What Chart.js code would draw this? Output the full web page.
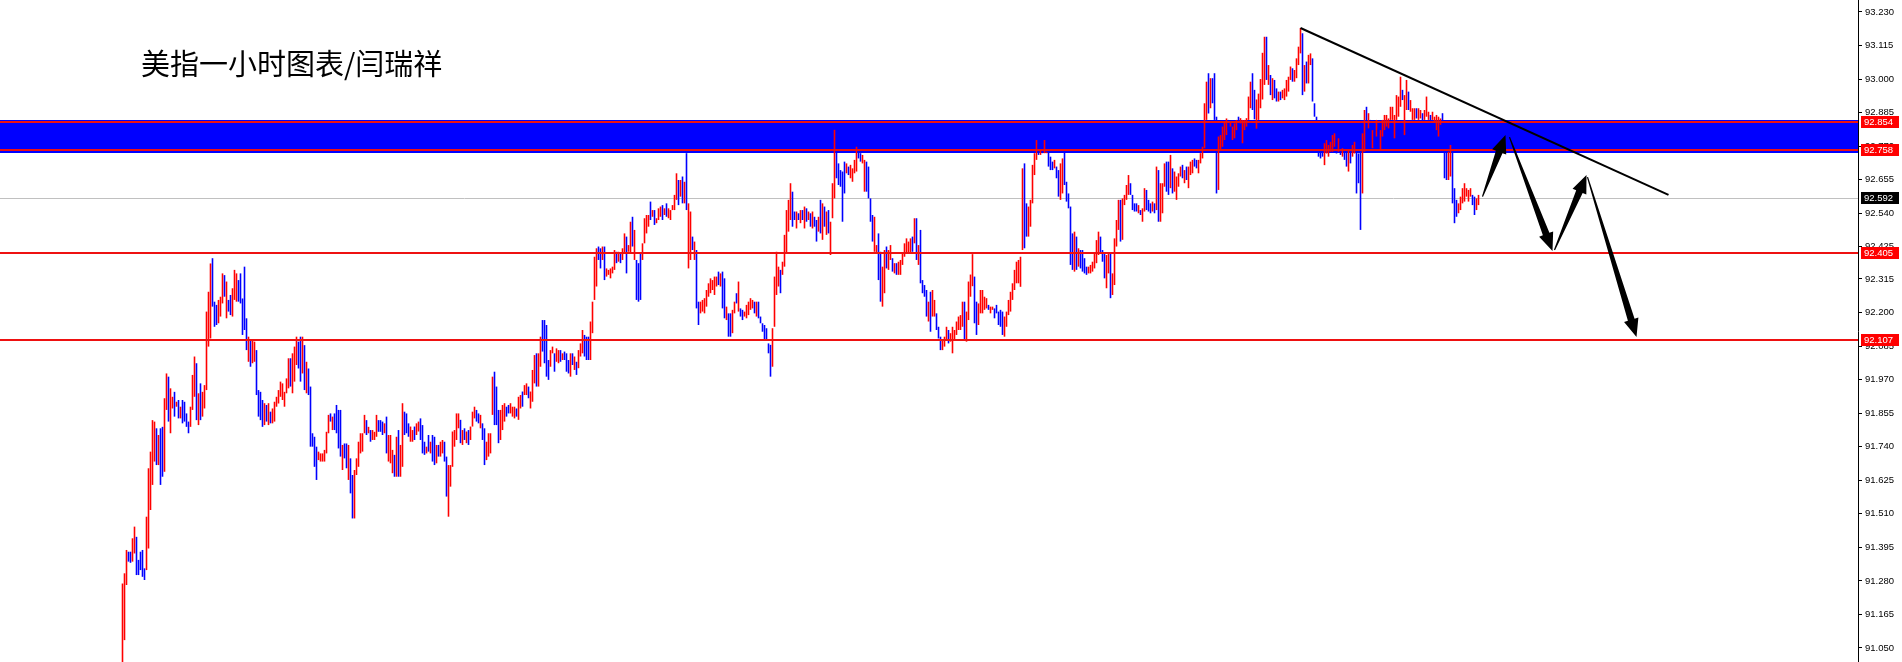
<!DOCTYPE html>
<html>
<head>
<meta charset="utf-8">
<script src="https://cdn.jsdelivr.net/npm/chart.js@4/dist/chart.umd.min.js"></script>
<style>
body { margin: 0; background: #fff; }
#wrap { position: relative; width: 1902px; height: 662px; }
#title { position: absolute; left: 141px; top: 48px; font: 29px/29px "Noto Sans CJK SC", sans-serif; color: #000; white-space: nowrap; }
</style>
</head>
<body>
<div id="wrap">
  <canvas id="chart" width="1902" height="662"></canvas>
  <div id="title">美指一小时图表/闫瑞祥</div>
</div>
<script>
// price scale labels on the right
const tickValues = [93.230, 93.115, 93.000, 92.885, 92.770, 92.655, 92.540, 92.425, 92.315, 92.200,
    92.085, 91.970, 91.855, 91.740, 91.625, 91.510, 91.395, 91.280, 91.165, 91.050];

// horizontal levels, resistance zone and current bid
const levels = [92.854, 92.758, 92.405, 92.107];
const bandTop = 92.858;
const bandBottom = 92.748;
const bidPrice = 92.592;

// trend line and drawn arrows, as [bar index, price]
const trendLine = [[589, 93.175], [773, 92.603]];
const arrows = [
    [[680, 92.597], [691.5, 92.808]],
    [[693.5, 92.801], [715, 92.411]],
    [[716, 92.414], [732, 92.671]],
    [[732.5, 92.664], [757, 92.116]]
];

// hourly bars (high / low), one every hour
const highs = [
91.271,91.306,91.386,91.380,91.380,91.426,91.466,91.431,91.352,91.380,
91.386,91.323,91.500,91.666,91.723,91.831,91.826,91.803,91.780,91.803,
91.808,91.906,91.991,91.980,91.940,91.911,91.928,91.894,91.900,91.877,
91.900,91.894,91.854,91.826,91.877,91.986,92.049,92.026,91.923,91.957,
91.928,91.951,92.203,92.271,92.368,92.386,92.237,92.226,92.243,92.254,
92.334,92.328,92.306,92.243,92.260,92.283,92.346,92.334,92.311,92.334,
92.248,92.357,92.180,92.117,92.106,92.106,92.100,92.071,91.934,91.928,
91.900,91.889,91.883,91.889,91.860,91.871,91.894,91.911,91.934,91.963,
91.957,91.928,91.974,92.043,92.043,92.060,92.083,92.117,92.100,92.117,
92.117,92.088,92.031,92.008,91.946,91.786,91.774,91.740,91.723,91.717,
91.717,91.729,91.791,91.849,91.854,91.843,91.854,91.883,91.866,91.866,
91.746,91.751,91.751,91.746,91.700,91.643,91.660,91.700,91.757,91.786,
91.786,91.849,91.831,91.808,91.797,91.797,91.791,91.849,91.831,91.831,
91.826,91.820,91.843,91.780,91.780,91.729,91.712,91.774,91.797,91.746,
91.889,91.860,91.854,91.820,91.809,91.797,91.809,91.820,91.826,91.837,
91.814,91.757,91.740,91.780,91.757,91.780,91.774,91.746,91.746,91.757,
91.763,91.757,91.706,91.677,91.677,91.792,91.797,91.854,91.854,91.832,
91.797,91.803,91.792,91.797,91.809,91.860,91.877,91.866,91.854,91.849,
91.820,91.803,91.757,91.786,91.786,91.980,91.997,91.946,91.866,91.866,
91.883,91.889,91.877,91.883,91.889,91.877,91.877,91.871,91.911,91.917,
91.929,91.951,91.957,91.946,91.929,92.003,92.054,92.060,92.060,92.117,
92.174,92.174,92.157,92.037,92.071,92.083,92.060,92.077,92.071,92.071,
92.060,92.066,92.060,92.037,92.060,92.060,92.049,92.031,92.071,92.094,
92.140,92.123,92.117,92.117,92.169,92.237,92.391,92.420,92.426,92.420,
92.426,92.426,92.351,92.346,92.351,92.357,92.414,92.408,92.408,92.403,
92.420,92.471,92.460,92.431,92.511,92.528,92.483,92.380,92.369,92.403,
92.437,92.523,92.534,92.534,92.580,92.551,92.551,92.523,92.557,92.563,
92.568,92.557,92.574,92.557,92.551,92.568,92.603,92.677,92.654,92.654,
92.666,92.648,92.746,92.574,92.546,92.460,92.443,92.414,92.237,92.237,
92.243,92.249,92.277,92.300,92.317,92.311,92.323,92.323,92.340,92.334,
92.340,92.317,92.220,92.197,92.197,92.209,92.237,92.266,92.306,92.214,
92.209,92.203,92.226,92.237,92.249,92.243,92.237,92.237,92.237,92.186,
92.163,92.157,92.146,92.094,92.089,92.146,92.323,92.408,92.357,92.346,
92.374,92.466,92.551,92.586,92.643,92.614,92.546,92.546,92.540,92.551,
92.551,92.563,92.557,92.546,92.540,92.546,92.528,92.517,92.528,92.586,
92.574,92.563,92.546,92.551,92.511,92.643,92.826,92.757,92.711,92.688,
92.683,92.717,92.711,92.700,92.706,92.694,92.723,92.768,92.757,92.746,
92.740,92.723,92.717,92.700,92.591,92.534,92.528,92.431,92.471,92.408,
92.357,92.414,92.426,92.414,92.431,92.386,92.369,92.369,92.374,92.380,
92.403,92.437,92.454,92.443,92.454,92.460,92.523,92.523,92.431,92.483,
92.311,92.294,92.277,92.237,92.271,92.277,92.243,92.197,92.151,92.117,
92.106,92.117,92.151,92.140,92.129,92.151,92.140,92.169,92.186,92.191,
92.237,92.237,92.203,92.306,92.330,92.400,92.323,92.237,92.231,92.277,
92.277,92.254,92.249,92.226,92.220,92.220,92.214,92.226,92.203,92.209,
92.203,92.186,92.203,92.243,92.271,92.300,92.346,92.374,92.380,92.391,
92.694,92.711,92.574,92.563,92.586,92.706,92.746,92.791,92.774,92.757,
92.768,92.791,92.751,92.751,92.734,92.717,92.723,92.700,92.688,92.711,
92.728,92.751,92.648,92.608,92.563,92.471,92.477,92.460,92.420,92.414,
92.414,92.386,92.357,92.357,92.363,92.374,92.403,92.448,92.477,92.460,
92.414,92.403,92.397,92.403,92.403,92.334,92.454,92.517,92.586,92.586,
92.591,92.603,92.637,92.671,92.643,92.603,92.574,92.574,92.568,92.551,
92.557,92.626,92.620,92.586,92.574,92.580,92.574,92.700,92.688,92.643,
92.643,92.711,92.717,92.717,92.740,92.694,92.683,92.666,92.677,92.700,
92.706,92.688,92.700,92.700,92.717,92.723,92.728,92.723,92.723,92.746,
92.768,92.917,92.991,93.020,93.003,93.003,93.020,92.871,92.803,92.808,
92.837,92.854,92.865,92.860,92.854,92.837,92.848,92.860,92.871,92.866,
92.860,92.860,92.866,92.940,92.991,93.020,92.963,92.930,92.950,93.000,
93.090,93.145,93.145,93.048,93.014,93.003,92.997,92.968,92.957,92.957,
92.963,92.968,92.997,93.008,93.043,93.037,93.031,93.071,93.111,93.175,
93.157,93.048,93.060,93.083,93.088,93.071,92.917,92.871,92.820,92.791,
92.785,92.780,92.791,92.774,92.785,92.808,92.814,92.785,92.797,92.785,
92.763,92.768,92.751,92.757,92.751,92.774,92.785,92.751,92.745,92.751,
92.814,92.894,92.905,92.883,92.860,92.825,92.820,92.860,92.831,92.825,
92.860,92.877,92.877,92.865,92.905,92.905,92.877,92.945,92.940,93.008,
92.963,92.945,92.997,92.957,92.928,92.900,92.900,92.900,92.900,92.894,
92.883,92.894,92.940,92.888,92.877,92.888,92.871,92.877,92.871,92.865,
92.883,92.751,92.751,92.751,92.774,92.751,92.626,92.586,92.574,92.597,
92.626,92.643,92.626,92.620,92.626,92.603,92.597,92.591,92.603
];

const lows = [
90.950,91.077,91.266,91.346,91.342,91.346,91.374,91.300,91.300,91.317,
91.294,91.283,91.317,91.391,91.523,91.609,91.689,91.677,91.677,91.609,
91.637,91.654,91.866,91.826,91.786,91.871,91.843,91.877,91.837,91.837,
91.820,91.826,91.808,91.786,91.808,91.866,91.911,91.831,91.814,91.831,
91.843,91.871,91.934,92.083,92.111,92.220,92.151,92.157,92.163,92.186,
92.231,92.254,92.180,92.203,92.191,92.186,92.243,92.237,92.237,92.231,
92.123,92.140,92.071,92.031,92.014,92.026,92.031,91.917,91.843,91.831,
91.808,91.814,91.826,91.814,91.820,91.820,91.826,91.877,91.888,91.911,
91.900,91.877,91.923,91.940,91.946,91.923,91.963,92.020,92.008,91.963,
91.991,91.934,91.923,91.917,91.740,91.740,91.671,91.626,91.694,91.689,
91.689,91.689,91.717,91.786,91.826,91.797,91.797,91.786,91.734,91.706,
91.660,91.700,91.666,91.626,91.580,91.494,91.494,91.643,91.671,91.717,
91.723,91.786,91.780,91.786,91.757,91.763,91.763,91.774,91.791,91.791,
91.780,91.786,91.717,91.689,91.683,91.649,91.637,91.637,91.637,91.637,
91.671,91.780,91.786,91.774,91.757,91.757,91.763,91.780,91.792,91.763,
91.717,91.712,91.717,91.723,91.717,91.689,91.677,91.683,91.706,91.706,
91.717,91.689,91.569,91.500,91.603,91.671,91.740,91.763,91.803,91.752,
91.746,91.763,91.752,91.746,91.763,91.809,91.837,91.826,91.820,91.803,
91.763,91.677,91.694,91.706,91.717,91.849,91.814,91.814,91.752,91.763,
91.797,91.826,91.843,91.854,91.854,91.843,91.837,91.843,91.832,91.871,
91.877,91.917,91.917,91.906,91.871,91.894,91.957,91.946,91.946,92.014,
92.066,92.026,91.980,91.969,92.014,92.060,91.997,92.031,92.026,92.031,
92.037,92.037,91.997,91.991,91.980,92.020,92.003,91.986,92.009,92.049,
92.060,92.049,92.037,92.037,92.037,92.129,92.243,92.289,92.380,92.351,
92.380,92.311,92.323,92.329,92.317,92.334,92.346,92.369,92.374,92.369,
92.380,92.403,92.334,92.408,92.403,92.426,92.380,92.243,92.237,92.243,
92.380,92.437,92.471,92.494,92.517,92.528,92.500,92.506,92.517,92.528,
92.517,92.534,92.528,92.523,92.517,92.551,92.551,92.586,92.568,92.597,
92.574,92.574,92.551,92.351,92.380,92.414,92.380,92.214,92.157,92.197,
92.203,92.197,92.220,92.254,92.266,92.277,92.260,92.289,92.294,92.289,
92.214,92.180,92.174,92.117,92.117,92.129,92.197,92.231,92.203,92.186,
92.174,92.186,92.180,92.191,92.209,92.214,92.197,92.186,92.180,92.163,
92.134,92.106,92.106,92.060,91.980,92.014,92.151,92.260,92.289,92.266,
92.329,92.357,92.403,92.477,92.517,92.494,92.517,92.488,92.517,92.506,
92.517,92.488,92.511,92.517,92.494,92.488,92.494,92.443,92.477,92.471,
92.449,92.494,92.466,92.471,92.397,92.523,92.591,92.660,92.637,92.631,
92.511,92.608,92.677,92.671,92.660,92.648,92.677,92.683,92.728,92.717,
92.711,92.614,92.614,92.591,92.511,92.443,92.408,92.403,92.311,92.237,
92.220,92.266,92.351,92.346,92.380,92.340,92.334,92.329,92.329,92.329,
92.363,92.391,92.403,92.403,92.403,92.408,92.437,92.380,92.363,92.300,
92.266,92.254,92.186,92.169,92.134,92.186,92.186,92.140,92.111,92.071,
92.071,92.083,92.106,92.094,92.100,92.060,92.106,92.123,92.140,92.140,
92.151,92.106,92.100,92.174,92.254,92.290,92.163,92.123,92.157,92.197,
92.197,92.209,92.214,92.209,92.197,92.209,92.180,92.197,92.157,92.151,
92.123,92.117,92.151,92.191,92.203,92.243,92.277,92.300,92.300,92.288,
92.414,92.420,92.460,92.460,92.494,92.574,92.671,92.723,92.740,92.740,
92.746,92.746,92.746,92.700,92.688,92.688,92.694,92.660,92.597,92.586,
92.608,92.637,92.580,92.557,92.363,92.346,92.340,92.346,92.357,92.351,
92.340,92.334,92.329,92.334,92.334,92.340,92.351,92.369,92.397,92.403,
92.374,92.317,92.283,92.334,92.249,92.260,92.294,92.426,92.483,92.443,
92.449,92.568,92.586,92.603,92.603,92.551,92.546,92.546,92.540,92.534,
92.511,92.546,92.551,92.546,92.540,92.546,92.540,92.551,92.511,92.511,
92.540,92.631,92.614,92.603,92.626,92.608,92.614,92.586,92.631,92.666,
92.660,92.643,92.654,92.626,92.671,92.677,92.700,92.694,92.677,92.711,
92.728,92.763,92.860,92.882,92.900,92.917,92.860,92.608,92.620,92.757,
92.768,92.791,92.808,92.825,92.837,92.791,92.797,92.825,92.837,92.848,
92.780,92.825,92.837,92.860,92.900,92.894,92.862,92.830,92.860,92.900,
92.930,92.980,92.997,92.980,92.945,92.928,92.934,92.923,92.923,92.928,
92.934,92.928,92.940,92.957,92.997,92.991,92.991,93.003,93.048,93.088,
92.945,92.957,92.985,92.985,93.048,92.923,92.871,92.854,92.734,92.728,
92.734,92.705,92.745,92.734,92.751,92.751,92.768,92.745,92.751,92.740,
92.734,92.723,92.700,92.683,92.711,92.734,92.745,92.608,92.643,92.483,
92.608,92.751,92.848,92.831,92.803,92.763,92.768,92.803,92.774,92.757,
92.803,92.825,92.837,92.831,92.860,92.860,92.797,92.860,92.871,92.905,
92.928,92.808,92.894,92.894,92.888,92.860,92.860,92.865,92.860,92.865,
92.854,92.860,92.871,92.860,92.854,92.860,92.854,92.825,92.803,92.843,
92.854,92.660,92.654,92.654,92.666,92.574,92.506,92.528,92.540,92.551,
92.574,92.580,92.597,92.580,92.597,92.568,92.534,92.551,92.568
];

// u = bar closed up, d = bar closed down
const dirs = [
'uuudduuddd','dduuuuudud','duuduududu','dddduuudud','uuuuuddduu',
'ududduuudd','ddduduuddd','dududuuuuu','uuuuduuudd','ududdddduu',
'uuuududddd','uddudduuuu','uududuuudd','duduuududu','uddduuduud',
'ddududdudu','udduuuuuud','ududuuuddu','dduuuudddu','uudduuuduu',
'duuduuuduu','dddduuduud','udddududuu','uddduuuudd','uduuuuudud',
'uuduududdd','uuuududuuu','duduuuuudu','duduududdu','uuuuuuuudu',
'ddudduudud','duuuuududd','ddddduuuud','uuuuuddudu','dudududdud',
'ududuuuddd','dduduuuudd','uudddduudd','uuduududuu','uuuuududud',
'ddduduuddd','uuuduuuuuu','uduuuudduu','uuuduudddd','duuuuuuuuu',
'udduuuuudu','duuddduddu','udddddudud','ddduuuuuud','dduuduuuud',
'uuuuddddud','uudddududu','uudduduuuu','duduuudduu','uuududdduu',
'uuuduuuudu','uuuuudduuu','uudududdud','uuuuuduuuu','duduuddddd',
'duuuuuudud','udduduuddd','uududududu','uuuuuuuuuu','duuduuuduu',
'duuuduuuuu','ddduuddduu','uuuuudduu'
].join('').split('');

const UP = '#ff0000';
const DOWN = '#0000ff';
const AXIS_FONT = '9.5px "Liberation Sans", Arial, sans-serif';

function drawArrow(ctx, x1, y1, x2, y2) {
    const len = Math.hypot(x2 - x1, y2 - y1);
    const ux = (x2 - x1) / len, uy = (y2 - y1) / len;
    const nx = -uy, ny = ux;
    const headLen = 18, headW = 7.5, shaftW = 3.5, tailW = 0.6;
    const bx = x2 - ux * headLen, by = y2 - uy * headLen;
    ctx.beginPath();
    ctx.moveTo(x1 + nx * tailW, y1 + ny * tailW);
    ctx.lineTo(bx + nx * shaftW, by + ny * shaftW);
    ctx.lineTo(bx + nx * headW, by + ny * headW);
    ctx.lineTo(x2, y2);
    ctx.lineTo(bx - nx * headW, by - ny * headW);
    ctx.lineTo(bx - nx * shaftW, by - ny * shaftW);
    ctx.lineTo(x1 - nx * tailW, y1 - ny * tailW);
    ctx.closePath();
    ctx.fill();
}

const overlay = {
    id: 'overlay',
    beforeDatasetsDraw(chart) {
        const { ctx, chartArea: a, scales: { y } } = chart;
        ctx.save();
        const t = Math.round(y.getPixelForValue(bandTop));
        const b = Math.round(y.getPixelForValue(bandBottom));
        ctx.fillStyle = '#0000ff';
        ctx.fillRect(a.left, t, a.right - a.left, b - t);
        const py = Math.round(y.getPixelForValue(bidPrice)) + 0.5;
        ctx.strokeStyle = '#c0c0c0';
        ctx.lineWidth = 1;
        ctx.beginPath();
        ctx.moveTo(a.left, py);
        ctx.lineTo(a.right, py);
        ctx.stroke();
        ctx.restore();
    },
    afterDatasetsDraw(chart) {
        const { ctx, chartArea: a, scales: { x, y } } = chart;
        ctx.save();
        ctx.beginPath();
        ctx.rect(a.left, a.top, a.right - a.left, a.bottom - a.top);
        ctx.clip();
        ctx.strokeStyle = '#ee1111';
        ctx.lineWidth = 2;
        levels.forEach(v => {
            const py = Math.round(y.getPixelForValue(v));
            ctx.beginPath();
            ctx.moveTo(a.left, py);
            ctx.lineTo(a.right, py);
            ctx.stroke();
        });
        ctx.strokeStyle = '#000';
        ctx.lineWidth = 2;
        ctx.beginPath();
        ctx.moveTo(x.getPixelForValue(trendLine[0][0]), y.getPixelForValue(trendLine[0][1]));
        ctx.lineTo(x.getPixelForValue(trendLine[1][0]), y.getPixelForValue(trendLine[1][1]));
        ctx.stroke();
        ctx.fillStyle = '#000';
        arrows.forEach(([p, q]) => {
            drawArrow(ctx, x.getPixelForValue(p[0]), y.getPixelForValue(p[1]),
                x.getPixelForValue(q[0]), y.getPixelForValue(q[1]));
        });
        ctx.restore();
    },
    afterDraw(chart) {
        const { ctx, chartArea: a, scales: { y } } = chart;
        ctx.save();
        ctx.font = AXIS_FONT;
        ctx.textBaseline = 'middle';
        ctx.textAlign = 'left';
        const tags = levels.map(v => [v, '#ff0000']).concat([[bidPrice, '#000000']]);
        tags.forEach(([v, bg]) => {
            const py = Math.round(y.getPixelForValue(v));
            ctx.fillStyle = bg;
            ctx.fillRect(a.right + 3, py - 6, 38, 12);
            ctx.fillStyle = '#fff';
            ctx.fillText(v.toFixed(3), a.right + 6, py + 0.5);
        });
        ctx.restore();
    }
};

const ctx = document.getElementById('chart').getContext('2d');
new Chart(ctx, {
    type: 'bar',
    data: {
        datasets: [{
            data: highs.map((h, i) => ({ x: i, y: [lows[i], h] })),
            backgroundColor: dirs.map(d => d === 'u' ? UP : DOWN),
            borderWidth: 0,
            barThickness: 1.6,
            inflateAmount: 0
        }]
    },
    options: {
        responsive: false,
        animation: false,
        devicePixelRatio: 1,
        layout: { padding: 0 },
        plugins: { legend: { display: false }, tooltip: { enabled: false } },
        scales: {
            x: { type: 'linear', display: false, offset: false, min: -61.25, max: 867.75 },
            y: {
                position: 'right',
                min: 91.002,
                max: 93.271,
                afterBuildTicks: s => { s.ticks = tickValues.map(v => ({ value: v })); },
                afterFit: s => { s.width = 44; s.paddingTop = 0; s.paddingBottom = 0; },
                grid: { drawOnChartArea: false, drawTicks: true, tickLength: 4, tickColor: '#000', color: '#000' },
                border: { color: '#000', width: 1 },
                ticks: {
                    padding: 3,
                    color: '#000',
                    autoSkip: false,
                    font: { family: '"Liberation Sans", Arial, sans-serif', size: 9.5 },
                    callback: v => Number(v).toFixed(3)
                }
            }
        }
    },
    plugins: [overlay]
});
</script>
</body>
</html>
